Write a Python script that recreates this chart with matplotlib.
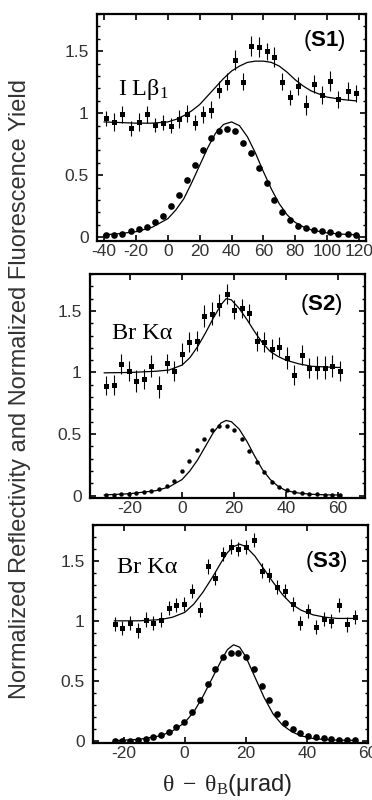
import matplotlib
matplotlib.use("Agg")
import matplotlib.pyplot as plt
from matplotlib.ticker import FixedLocator, MultipleLocator

plt.rcParams['font.family'] = ['Liberation Sans', 'DejaVu Sans']
plt.rcParams['mathtext.fontset'] = 'custom'
plt.rcParams['mathtext.rm'] = 'Liberation Serif'
plt.rcParams['mathtext.it'] = 'Liberation Serif:italic'
plt.rcParams['mathtext.bf'] = 'Liberation Sans:bold'
plt.rcParams['axes.unicode_minus'] = False

# ---- (S1) I L-beta1 ----
s1_x = [-39, -34, -29, -23, -18, -13, -8, -3, 2, 7, 12, 17, 22, 27, 32, 37,
        42, 47, 52, 57, 62, 67, 72, 77, 82, 87, 92, 97, 102, 107, 113, 118]
s1_refl = [0.02, 0.02, 0.03, 0.05, 0.065, 0.085, 0.12, 0.17, 0.25, 0.34, 0.46, 0.58,
           0.70, 0.80, 0.86, 0.87, 0.86, 0.76, 0.68, 0.56, 0.435, 0.30, 0.20, 0.14,
           0.094, 0.073, 0.06, 0.05, 0.04, 0.03, 0.025, 0.02]
s1_fluo = [0.96, 0.93, 0.99, 0.88, 0.93, 0.99, 0.905, 0.925, 0.90, 0.955, 0.997, 0.925,
           0.99, 1.03, 1.19, 1.255, 1.43, 1.255, 1.54, 1.535, 1.50, 1.45, 1.255, 1.13,
           1.22, 1.067, 1.236, 1.147, 1.26, 1.113, 1.18, 1.16]
s1_err = [0.06, 0.07, 0.07, 0.06, 0.07, 0.07, 0.06, 0.06, 0.06, 0.07, 0.07, 0.06,
          0.07, 0.07, 0.07, 0.07, 0.08, 0.07, 0.08, 0.08, 0.07, 0.08, 0.07, 0.06,
          0.07, 0.08, 0.07, 0.07, 0.08, 0.07, 0.07, 0.07]
s1_fit_x = [-40, -30, -20, -10, 0, 5, 10, 15, 20, 25, 30, 35, 40, 45, 50, 55, 60,
            65, 70, 75, 80, 85, 90, 100, 110, 118]
s1_fit_refl = [0.02, 0.03, 0.045, 0.08, 0.15, 0.22, 0.31, 0.44, 0.58, 0.72, 0.84, 0.91,
               0.93, 0.90, 0.81, 0.68, 0.53, 0.39, 0.27, 0.18, 0.12, 0.085, 0.06, 0.035,
               0.025, 0.02]
s1_fit_fluo = [0.93, 0.925, 0.92, 0.92, 0.93, 0.95, 0.98, 1.02, 1.07, 1.14, 1.21, 1.28,
               1.34, 1.38, 1.41, 1.42, 1.42, 1.41, 1.38, 1.33, 1.27, 1.22, 1.18, 1.13,
               1.11, 1.10]

# ---- (S2) Br K-alpha ----
s2_x = [-29.2, -26.3, -23.4, -20.5, -17.6, -14.7, -11.8, -8.9, -6.0, -3.1, -0.2, 2.7,
        5.6, 8.5, 11.4, 14.3, 17.2, 20.1, 23.0, 25.9, 28.8, 31.7, 34.6, 37.5, 40.4,
        43.3, 46.2, 49.1, 52.0, 54.9, 57.8, 60.7]
s2_refl = [0.005, 0.005, 0.01, 0.015, 0.02, 0.03, 0.035, 0.05, 0.08, 0.12, 0.20, 0.28,
           0.37, 0.46, 0.53, 0.565, 0.565, 0.53, 0.46, 0.36, 0.27, 0.19, 0.11, 0.07,
           0.045, 0.03, 0.02, 0.015, 0.01, 0.008, 0.005, 0.005]
s2_fluo = [0.893, 0.90, 1.068, 1.014, 0.928, 0.947, 1.054, 0.882, 1.073, 1.014, 1.15,
           1.245, 1.258, 1.457, 1.479, 1.546, 1.64, 1.511, 1.52, 1.48, 1.254, 1.25,
           1.19, 1.21, 1.116, 0.98, 1.143, 1.035, 1.04, 1.04, 1.05, 1.014]
s2_err = [0.08, 0.08, 0.08, 0.08, 0.09, 0.08, 0.09, 0.09, 0.08, 0.08, 0.09, 0.08,
          0.08, 0.09, 0.09, 0.09, 0.08, 0.08, 0.08, 0.08, 0.08, 0.08, 0.08, 0.08,
          0.09, 0.08, 0.08, 0.08, 0.09, 0.09, 0.09, 0.08]
s2_fit_x = [-30, -20, -10, -5, 0, 3, 6, 9, 12, 15, 17, 19, 22, 25, 28, 31, 34, 37,
            40, 45, 50, 55, 61]
s2_fit_refl = [0.005, 0.015, 0.04, 0.07, 0.13, 0.20, 0.29, 0.40, 0.51, 0.59, 0.61, 0.60,
               0.54, 0.44, 0.32, 0.21, 0.13, 0.075, 0.04, 0.02, 0.01, 0.006, 0.004]
s2_fit_fluo = [0.997, 1.0, 1.01, 1.02, 1.06, 1.12, 1.21, 1.32, 1.44, 1.55, 1.60, 1.59,
               1.52, 1.43, 1.33, 1.24, 1.17, 1.13, 1.10, 1.07, 1.05, 1.045, 1.04]

# ---- (S3) Br K-alpha ----
s3_x = [-22.9, -20.4, -17.8, -15.3, -12.8, -10.3, -7.7, -5.2, -2.7, -0.1, 2.4, 4.9,
        7.5, 10.0, 12.5, 15.1, 17.6, 20.1, 22.7, 25.2, 27.7, 30.3, 32.8, 35.3, 37.9,
        40.4, 42.9, 45.5, 48.0, 50.5, 53.0, 55.6]
s3_refl = [0.0, 0.0, 0.0, 0.008, 0.017, 0.028, 0.047, 0.07, 0.11, 0.153, 0.237, 0.335,
           0.474, 0.60, 0.70, 0.73, 0.73, 0.70, 0.60, 0.46, 0.335, 0.223, 0.145, 0.098,
           0.061, 0.042, 0.028, 0.02, 0.014, 0.008, 0.006, 0.003]
s3_fluo = [0.976, 0.942, 0.98, 0.92, 1.01, 0.984, 1.01, 1.107, 1.13, 1.143, 1.25, 1.093,
           1.455, 1.36, 1.56, 1.62, 1.60, 1.617, 1.673, 1.42, 1.38, 1.28, 1.25, 1.143,
           0.98, 1.08, 0.948, 1.017, 1.0, 1.13, 0.97, 1.03]
s3_err = [0.06, 0.06, 0.06, 0.06, 0.06, 0.06, 0.06, 0.06, 0.06, 0.06, 0.06, 0.06,
          0.06, 0.06, 0.06, 0.06, 0.06, 0.06, 0.06, 0.06, 0.06, 0.06, 0.06, 0.06,
          0.06, 0.06, 0.06, 0.06, 0.06, 0.06, 0.06, 0.06]
s3_fit_x = [-23, -15, -8, -4, 0, 3, 6, 9, 12, 14, 16, 18, 20, 23, 26, 29, 32, 35,
            38, 42, 46, 50, 56]
s3_fit_refl = [0.0, 0.01, 0.04, 0.08, 0.15, 0.24, 0.37, 0.52, 0.67, 0.76, 0.80, 0.78,
               0.70, 0.53, 0.36, 0.22, 0.13, 0.075, 0.04, 0.018, 0.008, 0.004, 0.002]
s3_fit_fluo = [1.0, 1.0, 1.01, 1.03, 1.07, 1.14, 1.24, 1.36, 1.49, 1.57, 1.62, 1.64,
               1.62, 1.54, 1.43, 1.32, 1.22, 1.14, 1.09, 1.05, 1.03, 1.02, 1.02]

yticks = [0, 0.5, 1, 1.5]
ytick_labels = ['0', '0.5', '1', '1.5']

panels = [
    dict(pos=[0.2608, 0.69875, 0.7231, 0.28375], x=s1_x, refl=s1_refl, fluo=s1_fluo,
         err=s1_err, fx=s1_fit_x, frefl=s1_fit_refl, ffluo=s1_fit_fluo,
         xlim=(-44.5, 124.5), ylim=(-0.03, 1.8), xticks=[-40, -20, 0, 20, 40, 60, 80, 100, 120],
         label=r'$\mathrm{I\ L\beta_1}$', lpos=(0.078, 0.643), tag=r'($\mathbf{S1}$)',
         tpos=(0.766, 0.859), ms=4.8),
    dict(pos=[0.2419, 0.3775, 0.7392, 0.28], x=s2_x, refl=s2_refl, fluo=s2_fluo,
         err=s2_err, fx=s2_fit_x, frefl=s2_fit_refl, ffluo=s2_fit_fluo,
         xlim=(-35.5, 70.5), ylim=(-0.02, 1.8), xticks=[-20, 0, 20, 40, 60],
         label='Br Kα', lpos=(0.08, 0.71), tag=r'($\mathbf{S2}$)', tpos=(0.764, 0.839), ms=3.2),
    dict(pos=[0.25, 0.07125, 0.7392, 0.2725], x=s3_x, refl=s3_refl, fluo=s3_fluo,
         err=s3_err, fx=s3_fit_x, frefl=s3_fit_refl, ffluo=s3_fit_fluo,
         xlim=(-30, 60), ylim=(-0.02, 1.8), xticks=[-20, 0, 20, 40, 60],
         label='Br Kα', lpos=(0.087, 0.78), tag=r'($\mathbf{S3}$)', tpos=(0.771, 0.807), ms=4.8),
]

fig = plt.figure(figsize=(3.72, 8.0), dpi=100)

for p in panels:
    ax = fig.add_axes(p['pos'])
    ax.plot(p['fx'], p['frefl'], '-', color='black', lw=0.9)
    ax.plot(p['fx'], p['ffluo'], '-', color='black', lw=0.9)
    ax.plot(p['x'], p['refl'], 'o', color='black', ms=p['ms'], mew=0)
    ax.errorbar(p['x'], p['fluo'], yerr=p['err'], fmt='s', color='black', ms=3.6,
                mew=0, elinewidth=0.8, capsize=1.6, capthick=0.8)
    ax.set_xlim(*p['xlim'])
    ax.set_ylim(*p['ylim'])
    ax.xaxis.set_major_locator(FixedLocator(p['xticks']))
    ax.set_xticklabels([str(t) for t in p['xticks']])
    ax.set_yticks(yticks)
    ax.set_yticklabels(ytick_labels)
    ax.yaxis.set_minor_locator(MultipleLocator(0.1))
    ax.tick_params(which='both', direction='in', top=True, right=True,
                   labelsize=12.5, labelcolor='#333333')
    ax.tick_params(axis='y', which='major', length=4, width=1.2, pad=6)
    ax.tick_params(axis='y', which='minor', length=2.5, width=1.0)
    ax.tick_params(axis='x', which='major', length=4, width=1.2, pad=2)
    for s in ax.spines.values():
        s.set_linewidth(1.6)
    ax.text(p['lpos'][0], p['lpos'][1], p['label'], transform=ax.transAxes,
            fontsize=17.5, family='Liberation Serif', va='baseline', ha='left')
    ax.text(p['tpos'][0], p['tpos'][1], p['tag'], transform=ax.transAxes,
            fontsize=16, va='baseline', ha='left')

fig.text(0.054, 0.514, 'Normalized Reflectivity and Normalized Fluorescence Yield',
         rotation=90, ha='center', va='center', fontsize=17, color='#333333')
fig.text(0.61, 0.011, r'$\mathrm{\theta\ -\ \theta_B}$(μrad)', ha='center', va='baseline',
         fontsize=17, color='#222222')

fig.savefig('out.png', dpi=100)
